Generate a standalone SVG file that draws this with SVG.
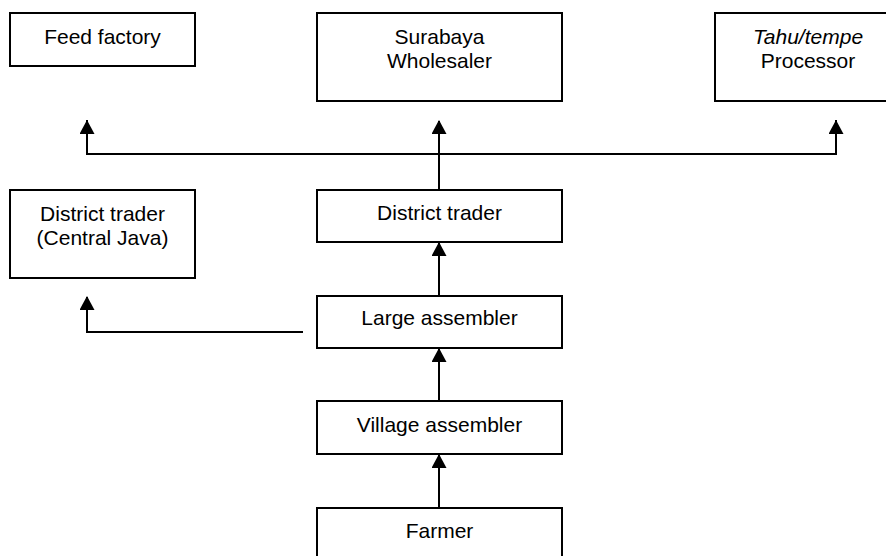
<svg xmlns="http://www.w3.org/2000/svg" width="886" height="556" viewBox="0 0 886 556">
  <style>
    .box { fill: #ffffff; stroke: #000000; stroke-width: 2; }
    .lbl { font-family: "Liberation Sans", Arial, sans-serif; font-size: 21px; fill: #000000; text-anchor: middle; }
    .it { font-style: italic; }
    .conn { fill: none; stroke: #000000; stroke-width: 2; }
  </style>
  <defs>
    <marker id="arrow" markerUnits="userSpaceOnUse" markerWidth="15" markerHeight="15" viewBox="0 0 14 15" refX="13" refY="7.5" orient="auto">
      <path d="M0,0 L14,7.5 L0,15 Z" fill="#000000"/>
    </marker>
  </defs>
  <rect width="886" height="556" fill="#ffffff"/>

  <g id="feed-factory">
    <rect class="box" x="10" y="13" width="185" height="53"/>
    <text class="lbl" x="102.5" y="44">Feed factory</text>
  </g>
  <g id="surabaya-wholesaler">
    <rect class="box" x="317" y="13" width="245" height="88"/>
    <text class="lbl" x="439.5" y="44">Surabaya</text>
    <text class="lbl" x="439.5" y="68">Wholesaler</text>
  </g>
  <g id="tahu-tempe-processor">
    <rect class="box" x="715" y="13" width="186" height="88"/>
    <text class="lbl it" x="808" y="44">Tahu/tempe</text>
    <text class="lbl" x="808" y="68">Processor</text>
  </g>
  <g id="district-trader-central-java">
    <rect class="box" x="10" y="190" width="185" height="88"/>
    <text class="lbl" x="102.5" y="221">District trader</text>
    <text class="lbl" x="102.5" y="245">(Central Java)</text>
  </g>
  <g id="district-trader">
    <rect class="box" x="317" y="190" width="245" height="52"/>
    <text class="lbl" x="439.5" y="220">District trader</text>
  </g>
  <g id="large-assembler">
    <rect class="box" x="317" y="296" width="245" height="52"/>
    <text class="lbl" x="439.5" y="325">Large assembler</text>
  </g>
  <g id="village-assembler">
    <rect class="box" x="317" y="401" width="245" height="53"/>
    <text class="lbl" x="439.5" y="432">Village assembler</text>
  </g>
  <g id="farmer">
    <rect class="box" x="317" y="508" width="245" height="60"/>
    <text class="lbl" x="439.5" y="538">Farmer</text>
  </g>

  <g id="connectors">
    <line class="conn" x1="439" y1="508" x2="439" y2="455" marker-end="url(#arrow)"/>
    <line class="conn" x1="439" y1="401" x2="439" y2="349" marker-end="url(#arrow)"/>
    <line class="conn" x1="439" y1="296" x2="439" y2="243" marker-end="url(#arrow)"/>
    <polyline class="conn" points="303,332 87,332 87,297" marker-end="url(#arrow)"/>
    <line class="conn" x1="439" y1="190" x2="439" y2="154"/>
    <polyline class="conn" points="87,120 87,154 836,154 836,120"/>
    <line class="conn" x1="87" y1="154" x2="87" y2="121" marker-end="url(#arrow)"/>
    <line class="conn" x1="439" y1="154" x2="439" y2="121" marker-end="url(#arrow)"/>
    <line class="conn" x1="836" y1="154" x2="836" y2="121" marker-end="url(#arrow)"/>
  </g>
</svg>
